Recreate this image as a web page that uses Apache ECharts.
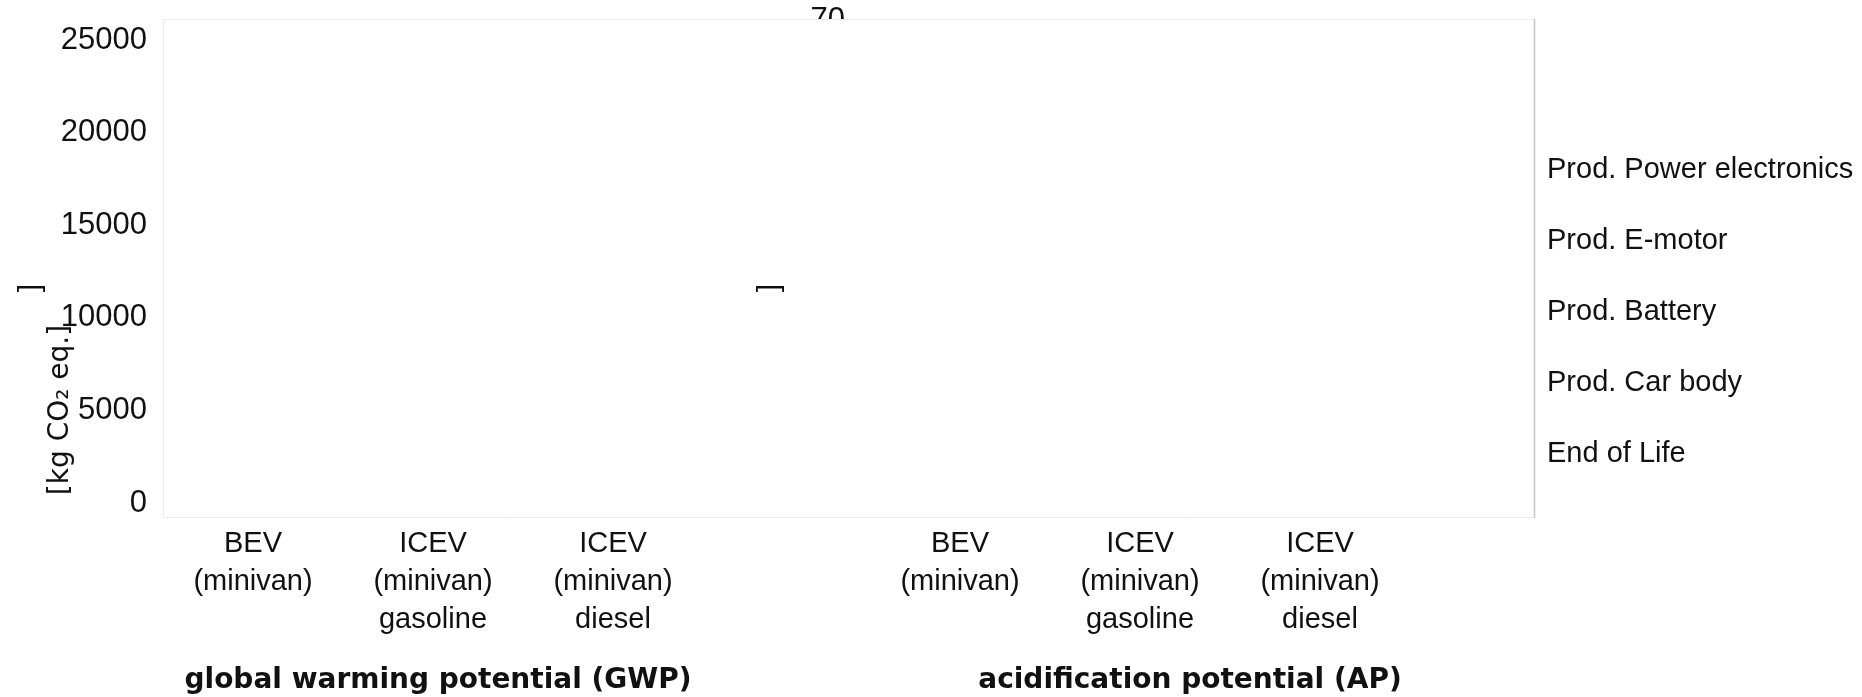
<!DOCTYPE html>
<html>
<head>
<meta charset="utf-8">
<script src="https://cdn.jsdelivr.net/npm/echarts@6/dist/echarts.min.js"></script>
<style>
  html, body { margin: 0; padding: 0; background: #fff; }
  #chart { width: 1862px; height: 697px; }
</style>
</head>
<body>
<div id="chart"></div>
<script>
// categories on both panels
const categories = ['BEV\n(minivan)', 'ICEV\n(minivan)\ngasoline', 'ICEV\n(minivan)\ndiesel']
const seriesNames = ['Prod. Power electronics', 'Prod. E-motor', 'Prod. Battery', 'Prod. Car body', 'End of Life']

// no bar is visible in the picture, so the value arrays stay empty
const gwpPowerElectronics = []
const gwpEMotor = []
const gwpBattery = []
const gwpCarBody = []
const gwpEndOfLife = []
const apPowerElectronics = []
const apEMotor = []
const apBattery = []
const apCarBody = []
const apEndOfLife = []

const gwpAxis = { min: 0, max: 25000, interval: 5000 }
const apAxis = { min: 0, max: 70, interval: 10 }

const gwpData = [gwpPowerElectronics, gwpEMotor, gwpBattery, gwpCarBody, gwpEndOfLife]
const apData = [apPowerElectronics, apEMotor, apBattery, apCarBody, apEndOfLife]

const font = 'Liberation Sans, Arial, sans-serif'
const boldFont = 'DejaVu Sans, sans-serif'
const ink = '#111'

const chart = echarts.init(document.getElementById('chart'))

const xAxisBase = {
  type: 'category',
  data: categories,
  axisLine: { show: false },
  axisTick: { show: false },
  nameLocation: 'middle',
  nameGap: 164,
  axisLabel: { fontFamily: font, fontSize: 29, color: ink, lineHeight: 38, margin: 22, interval: 0 },
}

chart.setOption({
  animation: false,
  grid: [
    { left: 163, width: 540, top: 40, bottom: 194, outerBoundsMode: 'none' },
    { left: 870, width: 540, top: 20, bottom: 194, outerBoundsMode: 'none' },
  ],
  legend: {
    orient: 'vertical',
    left: 1537,
    top: 150,
    itemWidth: 0,
    itemHeight: 0,
    itemGap: 42,
    data: seriesNames,
    textStyle: { fontFamily: font, fontSize: 29, color: ink },
  },
  xAxis: [
    {
      ...xAxisBase, gridIndex: 0, name: 'global warming potential (GWP)',
      nameTextStyle: { fontFamily: boldFont, fontSize: 28, fontWeight: 'bold', color: ink, padding: [0, 0, 0, 10] },
    },
    {
      ...xAxisBase, gridIndex: 1, name: 'acidification potential (AP)',
      nameTextStyle: { fontFamily: boldFont, fontSize: 28, fontWeight: 'bold', color: ink, padding: [0, 0, 0, 100] },
    },
  ],
  yAxis: [
    {
      type: 'value', gridIndex: 0, ...gwpAxis,
      axisLine: { show: false }, axisTick: { show: false }, splitLine: { show: false },
      axisLabel: { fontFamily: font, fontSize: 31, color: ink, margin: 16, formatter: v => String(v) },
    },
    {
      type: 'value', gridIndex: 1, ...apAxis,
      axisLine: { show: false }, axisTick: { show: false }, splitLine: { show: false },
      axisLabel: {
        fontFamily: font, fontSize: 31, color: ink, margin: 25,
        formatter: v => (v === apAxis.max ? String(v) : ''),
      },
    },
  ],
  series: [
    ...seriesNames.map((name, i) => ({
      type: 'bar', name, stack: 'gwp', xAxisIndex: 0, yAxisIndex: 0, data: gwpData[i],
    })),
    ...seriesNames.map((name, i) => ({
      type: 'bar', name, stack: 'ap', xAxisIndex: 1, yAxisIndex: 1, data: apData[i],
    })),
  ],
  graphic: [
    // plot frame, drawn over the panels
    {
      type: 'rect', z: 50,
      shape: { x: 163.5, y: 19.5, width: 1371, height: 498 },
      style: { fill: '#fff', stroke: '#ececec', lineWidth: 1 },
    },
    {
      type: 'line', z: 51,
      shape: { x1: 1534.5, y1: 19, x2: 1534.5, y2: 518 },
      style: { stroke: '#c6c6c6', lineWidth: 1.5 },
    },
    // axis unit labels
    {
      type: 'text', z: 60, x: 61, y: 410, rotation: Math.PI / 2,
      style: { text: '[kg CO₂ eq.]', font: '28px ' + boldFont, fill: ink, align: 'center', verticalAlign: 'middle' },
    },
    {
      type: 'text', z: 60, x: 31, y: 288, rotation: Math.PI / 2,
      style: { text: ']', font: '30px ' + font, fill: ink, align: 'center', verticalAlign: 'middle' },
    },
    {
      type: 'text', z: 60, x: 770, y: 288, rotation: Math.PI / 2,
      style: { text: ']', font: '30px ' + font, fill: ink, align: 'center', verticalAlign: 'middle' },
    },
  ],
})
</script>
</body>
</html>
